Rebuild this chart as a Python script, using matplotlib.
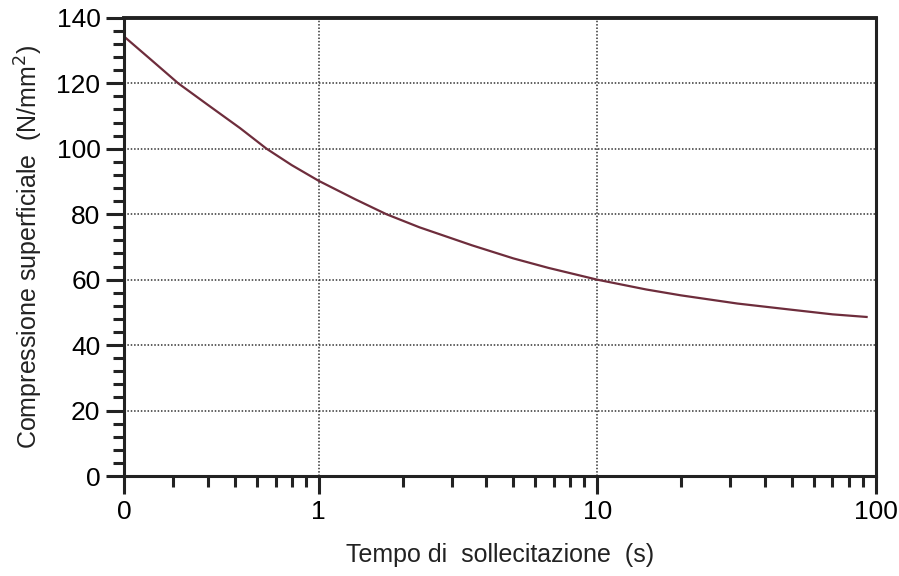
import matplotlib
matplotlib.use("Agg")
import matplotlib.pyplot as plt
from matplotlib.ticker import FixedLocator, FixedFormatter, NullFormatter

# dati (tempo in s, compressione in N/mm2)
tempo = [0.2, 0.25, 0.313, 0.4, 0.522, 0.65, 0.8, 1.0, 1.35, 1.75, 2.3, 3.55, 5.0, 6.68, 10.0, 15.0, 20.0, 31.9, 50.0, 70.0, 92.8]
compressione = [134.3, 127.2, 120.0, 113.4, 106.3, 100.0, 95.0, 90.2, 84.6, 80.0, 76.0, 70.5, 66.5, 63.6, 60.0, 57.0, 55.2, 52.7, 50.8, 49.4, 48.6]

x_major = [0.2, 1, 10, 100]
x_major_labels = ["0", "1", "10", "100"]
x_minor = [0.3, 0.4, 0.5, 0.6, 0.7, 0.8, 0.9,
           2, 3, 4, 5, 6, 7, 8, 9,
           20, 30, 40, 50, 60, 70, 80, 90]
y_major = [0, 20, 40, 60, 80, 100, 120, 140]

plt.rcParams['font.family'] = ['Liberation Sans', 'DejaVu Sans']

fig = plt.figure(figsize=(8.99, 5.76), dpi=100)
ax = fig.add_axes([0.138, 0.1736, 0.836, 0.7954])

ax.plot(tempo, compressione, color='#6e2d3c', lw=1.6)

ax.set_xscale('log')
ax.set_xlim(0.2, 100)
ax.set_ylim(0, 140)

ax.xaxis.set_major_locator(FixedLocator(x_major))
ax.xaxis.set_major_formatter(FixedFormatter(x_major_labels))
ax.xaxis.set_minor_locator(FixedLocator(x_minor))
ax.xaxis.set_minor_formatter(NullFormatter())
ax.set_yticks(y_major)
ax.yaxis.set_minor_locator(FixedLocator([v for v in range(0, 141, 4) if v % 20]))

ax.tick_params(which='major', direction='out', length=13, width=2.2, labelsize=19, pad=4, color='#222222')
ax.tick_params(which='minor', direction='out', length=8, width=2.2, color='#222222')

# griglia punteggiata solo dentro il riquadro
for v in [1, 10]:
    ax.axvline(v, color='#333333', lw=1.1, ls=(0, (1, 1.2)), zorder=0)
for v in y_major[1:-1]:
    ax.axhline(v, color='#333333', lw=1.1, ls=(0, (1, 1.2)), zorder=0)

for s in ax.spines.values():
    s.set_color('#222222')
    s.set_linewidth(2.2)
ax.spines['top'].set_linewidth(2.8)

ax.set_xlabel("Tempo di  sollecitazione  (s)", fontsize=18, labelpad=14, color='#222222')
ax.set_ylabel("Compressione superficiale  (N/mm$^2$)", fontsize=18, labelpad=8, color='#222222')

fig.savefig("out.png", dpi=100)
